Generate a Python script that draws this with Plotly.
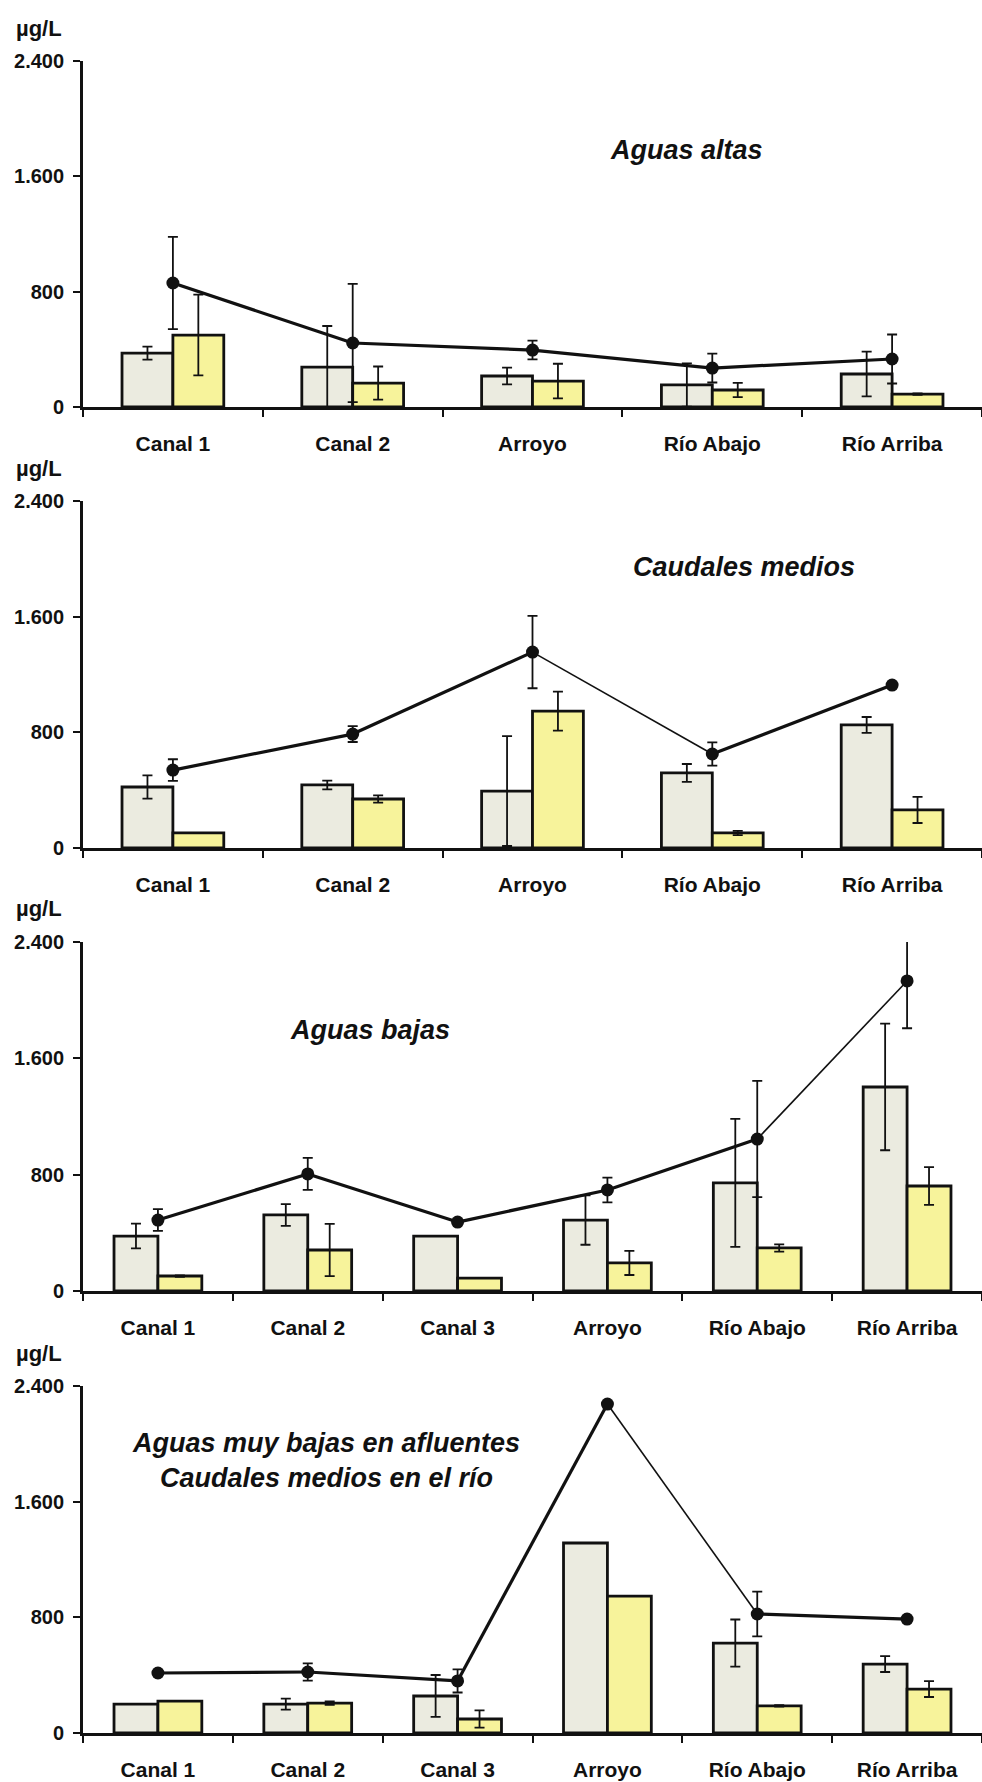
import plotly.graph_objects as go

# ---- data (µg/L) ----
cats_5 = ["Canal 1", "Canal 2", "Arroyo", "Río Abajo", "Río Arriba"]
cats_6 = ["Canal 1", "Canal 2", "Canal 3", "Arroyo", "Río Abajo", "Río Arriba"]

# Aguas altas
altas_gris = [374, 277, 215, 153, 229]
altas_gris_err = [45, 285, 58, 150, 155]
altas_amar = [499, 166, 180, 118, 90]
altas_amar_err = [280, 115, 120, 50, 5]
altas_linea = [860, 444, 395, 270, 333]
altas_linea_err = [320, 410, 65, 100, 170]
altas_grosor = [3.2, 3.2, 3.2, 3.2]

# Caudales medios
medios_gris = [422, 436, 394, 519, 851]
medios_gris_err = [80, 30, 380, 62, 55]
medios_amar = [104, 339, 947, 104, 263]
medios_amar_err = [0, 25, 135, 15, 90]
medios_linea = [539, 788, 1355, 650, 1127]
medios_linea_err = [75, 55, 250, 80, 20]
medios_grosor = [3.2, 3.2, 1.6, 3.2]

# Aguas bajas
bajas_gris = [378, 523, 378, 488, 743, 1403]
bajas_gris_err = [85, 75, 0, 170, 440, 435]
bajas_amar = [103, 282, 89, 193, 296, 722]
bajas_amar_err = [5, 180, 0, 83, 25, 130]
bajas_linea = [488, 805, 474, 695, 1045, 2132]
bajas_linea_err = [75, 110, 15, 85, 400, 325]
bajas_grosor = [3.2, 3.2, 3.2, 3.2, 1.6]

# Aguas muy bajas en afluentes / caudales medios en el río
muybajas_gris = [200, 200, 256, 1314, 622, 477]
muybajas_gris_err = [0, 38, 145, 0, 163, 55]
muybajas_amar = [221, 207, 97, 947, 187, 304]
muybajas_amar_err = [0, 12, 60, 0, 5, 55]
muybajas_linea = [415, 422, 360, 2275, 823, 788]
muybajas_linea_err = [15, 60, 80, 0, 155, 10]
muybajas_grosor = [3.2, 3.2, 3.2, 1.6, 3.2]

titulos = [
    "Aguas altas",
    "Caudales medios",
    "Aguas bajas",
    "Aguas muy bajas en afluentes<br>Caudales medios en el río",
]
y_ticks = [0, 800, 1600, 2400]
y_tick_text = ["0", "800", "1.600", "2.400"]

panels = [
    (cats_5, altas_gris, altas_gris_err, altas_amar, altas_amar_err, altas_linea, altas_linea_err, altas_grosor),
    (cats_5, medios_gris, medios_gris_err, medios_amar, medios_amar_err, medios_linea, medios_linea_err, medios_grosor),
    (cats_6, bajas_gris, bajas_gris_err, bajas_amar, bajas_amar_err, bajas_linea, bajas_linea_err, bajas_grosor),
    (cats_6, muybajas_gris, muybajas_gris_err, muybajas_amar, muybajas_amar_err, muybajas_linea, muybajas_linea_err, muybajas_grosor),
]

W, H = 982, 1782
# vertical pixel extents (top, bottom) of each plot area
extents = [(61, 407), (501, 848), (942, 1291), (1386, 1733)]
# title anchor (x px, y px)
title_pos = [(686, 150), (744, 567), (370, 1030), (326, 1460)]

GRAY = "#EBEBE0"
YELLOW = "#F7F39B"
INK = "#111111"
FONT = "Liberation Sans, Arial, sans-serif"

fig = go.Figure()
layout = dict(
    width=W, height=H, margin=dict(l=0, r=0, t=0, b=0),
    paper_bgcolor="white", plot_bgcolor="white",
    showlegend=False, barmode="overlay",
    font=dict(family=FONT, color=INK),
    annotations=[],
)

x0 = 83 / W
for i, (cats, g, ge, a, ae, ln, le, widths) in enumerate(panels):
    n = len(cats)
    xa = "x" if i == 0 else f"x{i+1}"
    ya = "y" if i == 0 else f"y{i+1}"
    top, bot = extents[i]
    bw = 0.283 if n == 5 else 0.293

    err_style = dict(type="data", color=INK, thickness=1.8, width=5)
    fig.add_trace(go.Bar(
        x=cats, y=g, width=bw, offset=-bw, xaxis=xa, yaxis=ya,
        marker=dict(color=GRAY, line=dict(color=INK, width=2.8)),
        error_y=dict(array=ge, visible=True, **err_style),
    ))
    fig.add_trace(go.Bar(
        x=cats, y=a, width=bw, offset=0, xaxis=xa, yaxis=ya,
        marker=dict(color=YELLOW, line=dict(color=INK, width=2.8)),
        error_y=dict(array=ae, visible=True, **err_style),
    ))
    # connecting line, one segment at a time (different weights)
    for k in range(n - 1):
        fig.add_trace(go.Scatter(
            x=cats[k:k + 2], y=ln[k:k + 2], mode="lines", xaxis=xa, yaxis=ya,
            line=dict(color=INK, width=widths[k]), hoverinfo="skip",
        ))
    fig.add_trace(go.Scatter(
        x=cats, y=ln, mode="markers", xaxis=xa, yaxis=ya,
        marker=dict(color=INK, size=13),
        error_y=dict(array=le, visible=True, **err_style),
    ))

    key = "" if i == 0 else str(i + 1)
    layout["xaxis" + key] = dict(
        domain=[x0, 1], anchor=ya, type="category", categoryorder="array",
        categoryarray=cats, range=[-0.5, n - 0.5],
        showline=True, linecolor=INK, linewidth=2.8,
        ticks="outside", tickson="boundaries", ticklen=7, tickwidth=2.2, tickcolor=INK,
        tickfont=dict(size=21, family=FONT, color=INK, weight="bold"),
        ticklabelstandoff=16,
        showgrid=False, zeroline=False, automargin=False, fixedrange=True,
    )
    layout["yaxis" + key] = dict(
        domain=[1 - bot / H, 1 - top / H], anchor=xa, range=[0, 2400],
        tickvals=y_ticks, ticktext=y_tick_text,
        showline=True, linecolor=INK, linewidth=2.8,
        ticks="outside", ticklen=7, tickwidth=2.2, tickcolor=INK,
        tickfont=dict(size=20, family=FONT, color=INK, weight="bold"),
        ticklabelstandoff=5,
        showgrid=False, zeroline=False, automargin=False, fixedrange=True,
    )
    layout["annotations"].append(dict(
        text="µg/L", xref="paper", yref="paper", x=14 / W, y=1 - (top - 33) / H,
        xanchor="left", yanchor="middle", showarrow=False,
        font=dict(size=22, family=FONT, color=INK, weight="bold"),
    ))
    tx, ty = title_pos[i]
    layout["annotations"].append(dict(
        text="<b><i>" + titulos[i] + "</i></b>", xref="paper", yref="paper",
        x=tx / W, y=1 - ty / H, xanchor="center", yanchor="middle", showarrow=False,
        align="center", font=dict(size=27, family=FONT, color=INK),
    ))

fig.update_layout(**layout)
fig.write_html("out.html")
